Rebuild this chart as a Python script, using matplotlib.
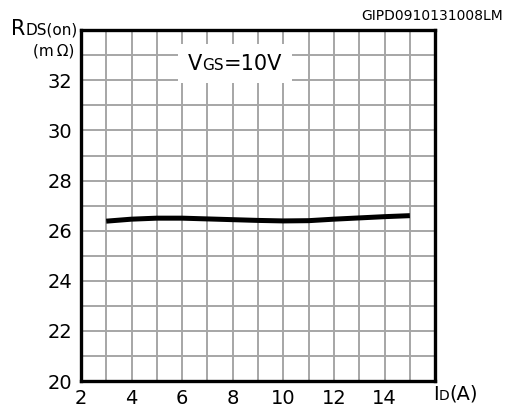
import matplotlib.pyplot as plt
from matplotlib.offsetbox import TextArea, HPacker, AnnotationBbox

# data
i_d = [3, 4, 5, 6, 7, 8, 9, 10, 11, 12, 13, 14, 15]
r_ds = [26.38, 26.46, 26.5, 26.5, 26.47, 26.44, 26.41, 26.39, 26.4, 26.46, 26.51, 26.56, 26.6]

x_ticks = [2, 4, 6, 8, 10, 12, 14]
y_ticks = [20, 22, 24, 26, 28, 30, 32]

plt.rcParams['font.family'] = ['DejaVu Sans']

fig = plt.figure(figsize=(5.12, 4.08), dpi=100)
ax = fig.add_axes([0.158, 0.066, 0.692, 0.86])

ax.set_xlim(2, 16)
ax.set_ylim(20, 34)
ax.set_xticks(range(2, 17))
ax.set_yticks(range(20, 35))
ax.set_xticklabels([str(v) if v in x_ticks else "" for v in range(2, 17)], fontsize=14)
ax.set_yticklabels([str(v) if v in y_ticks else "" for v in range(20, 35)], fontsize=14)
ax.tick_params(length=0, pad=6)
ax.grid(True, color="#a6a6a6", linewidth=1.4)
ax.set_axisbelow(True)
for s in ax.spines.values():
    s.set_linewidth(2.4)

ax.plot(i_d, r_ds, color="black", linewidth=3.6, solid_capstyle="butt")


def mixed(parts):
    return HPacker(children=[TextArea(t, textprops=dict(fontsize=fs, color="black"))
                             for t, fs in parts], pad=0, sep=0, align="baseline")


# VGS=10V label in a white box
box = AnnotationBbox(mixed([("V", 15), ("GS", 11), ("=10V", 15)]),
                     (0.435, 0.905), xycoords="axes fraction", frameon=True,
                     pad=0.7, bboxprops=dict(facecolor="white", edgecolor="none"))
ax.add_artist(box)

# axis titles
ylab = AnnotationBbox(mixed([("R", 15), ("DS(on)", 11)]), (0.152, 0.93),
                      xycoords="figure fraction", frameon=False, box_alignment=(1, 0.5), pad=0)
fig.add_artist(ylab)
fig.text(0.145, 0.876, "(m\u2009\u03a9)", fontsize=11, ha="right", va="center")

xlab = AnnotationBbox(mixed([("I", 14), ("D", 10), ("(A)", 14)]), (0.89, 0.034),
                      xycoords="figure fraction", frameon=False, box_alignment=(0.5, 0.5), pad=0)
fig.add_artist(xlab)

fig.text(0.982, 0.962, "GIPD0910131008LM", fontsize=10, ha="right", va="center")

fig.savefig("out.png", dpi=100)
